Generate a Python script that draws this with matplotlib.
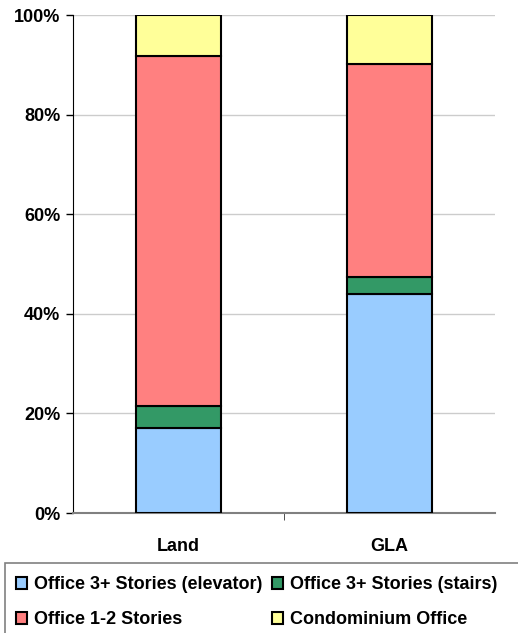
import numpy as np
import matplotlib.pyplot as plt
from matplotlib.patches import Rectangle

plt.rcParams['font.family'] = ['Liberation Sans', 'DejaVu Sans']

categories = ['Land', 'GLA']
series = ['Office 3+ Stories (elevator)', 'Office 3+ Stories (stairs)',
          'Office 1-2 Stories', 'Condominium Office']
elevator = [17.1, 43.9]
stairs = [4.4, 3.4]
office12 = [70.3, 42.8]
condo = [8.2, 9.9]
colors = ['#99ccff', '#339966', '#ff8080', '#ffff99']

fig = plt.figure(figsize=(5.18, 6.33), dpi=100)
ax = fig.add_axes([73/518, 1-513/633, (495-73)/518, (513-15)/633])

x = np.arange(len(categories))
bottom = np.zeros(len(categories))
handles = []
for vals, col, name in zip([elevator, stairs, office12, condo], colors, series):
    b = ax.bar(x, vals, 0.4, bottom=bottom, color=col, edgecolor='black',
               linewidth=1.5, label=name, zorder=3)
    handles.append(b)
    bottom += np.array(vals)

ax.set_xlim(-0.5, 1.5)
ax.set_ylim(0, 100)
ax.set_yticks(np.arange(0, 101, 20))
ax.set_yticklabels([f'{v}%' for v in range(0, 101, 20)], fontsize=13, fontweight='bold')
ax.set_xticks(x)
ax.set_xticklabels(categories, fontsize=13, fontweight='bold')
ax.set_xticks([0.5], minor=True)
ax.tick_params(axis='x', which='major', length=0, pad=18)
ax.tick_params(axis='x', which='minor', length=5, color='#333333')
ax.tick_params(axis='y', length=5, width=1, pad=4)
ax.yaxis.grid(True, color='#cccccc', linewidth=1, zorder=0)
ax.spines['top'].set_visible(False)
ax.spines['right'].set_visible(False)
ax.spines['left'].set_color('black')
ax.spines['bottom'].set_color('#808080')
ax.spines['bottom'].set_linewidth(1.5)

# legend box, row-major order like the original
fig.patches.append(Rectangle((5/518, -0.05), 520/518, 0.05 + 1 - 563/633,
                             transform=fig.transFigure, fill=False,
                             edgecolor='#808080', linewidth=1.2))
order = [0, 2, 1, 3]
fig.legend([handles[i] for i in order], [series[i] for i in order], ncol=2,
           loc='upper left', bbox_to_anchor=(9/518, 1 - 569/633), frameon=False,
           prop={'size': 13, 'weight': 'bold'},
           handlelength=0.6, handleheight=0.6, handletextpad=0.4,
           columnspacing=0.5, labelspacing=1.0, borderaxespad=0)

fig.savefig('out.png', dpi=100)
